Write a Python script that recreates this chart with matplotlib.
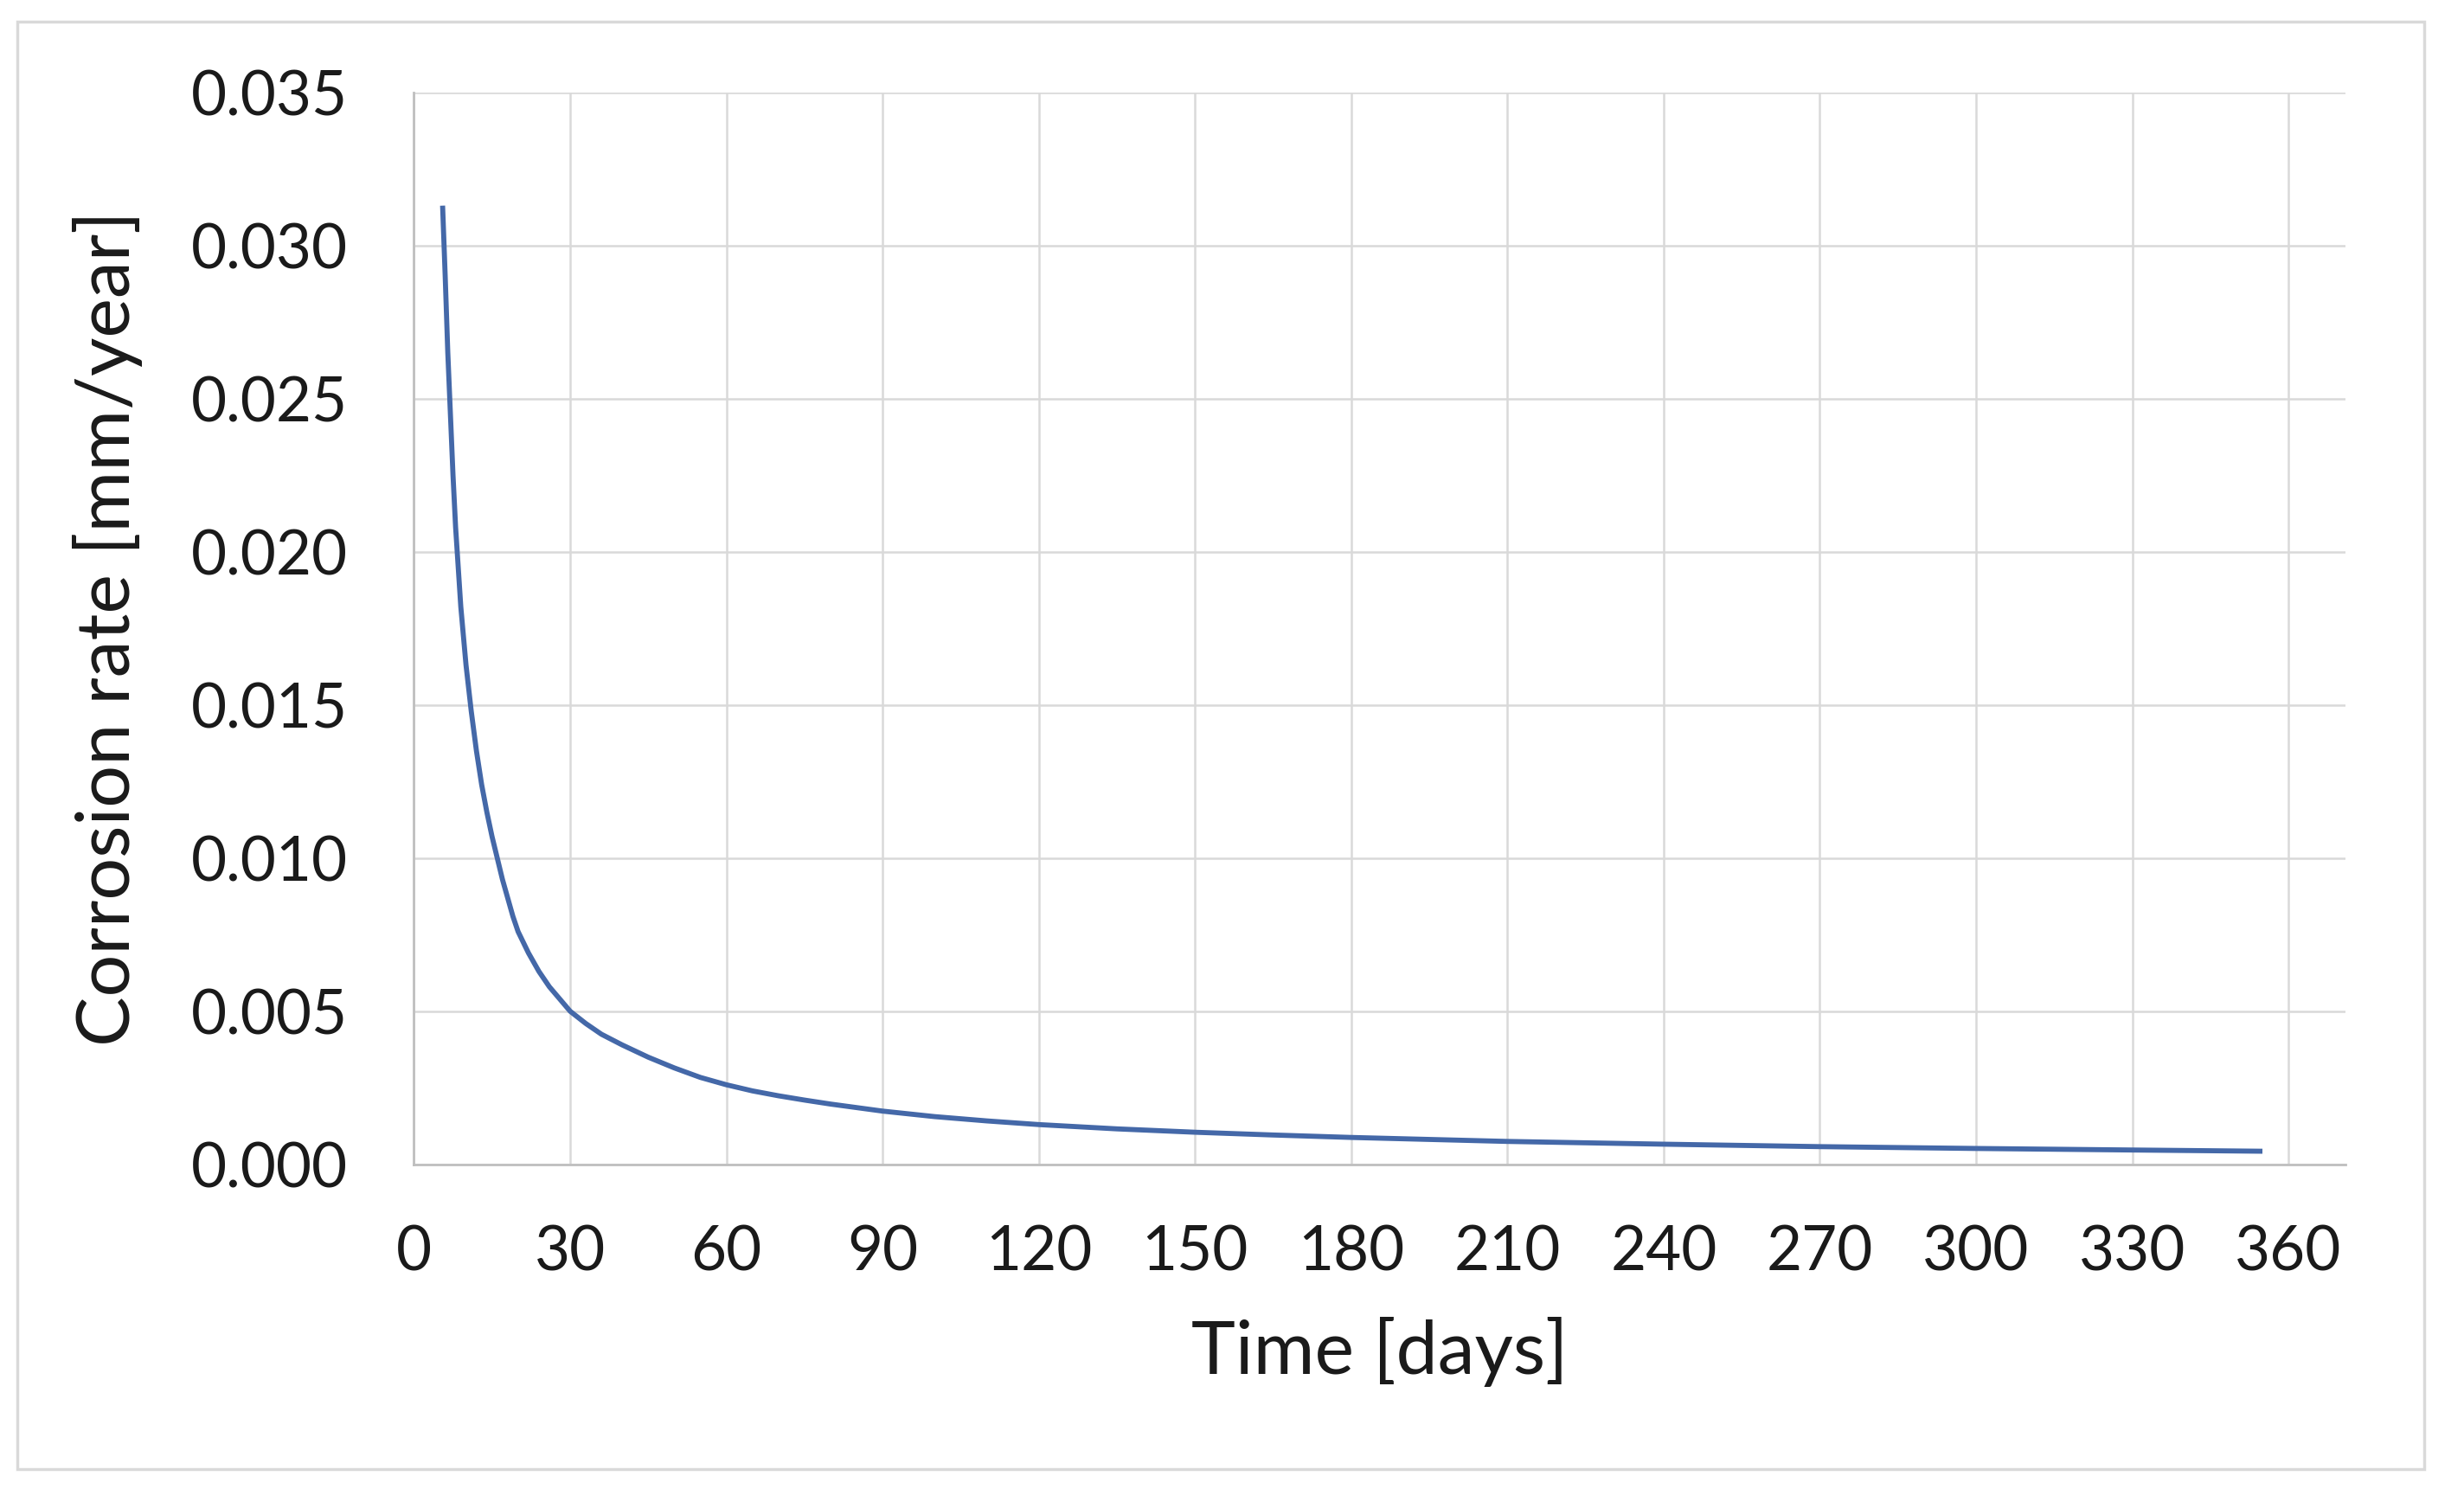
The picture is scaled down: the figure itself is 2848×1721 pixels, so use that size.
import matplotlib.pyplot as plt
from matplotlib.patches import Rectangle
from matplotlib.ticker import FormatStrFormatter

# values
days = [5.5, 6, 6.5, 7, 7.5, 8, 9, 10, 11, 12, 13, 14, 15, 16, 17, 18, 19, 20,
        22, 24, 26, 28, 30, 33, 36, 40, 45, 50, 55, 60, 65, 70, 75, 80, 90, 100,
        110, 120, 135, 150, 165, 180, 210, 240, 270, 300, 330, 355]
rate = [0.0313, 0.0290, 0.0265, 0.0245, 0.0225, 0.0208, 0.0182, 0.0163, 0.0148,
        0.0135, 0.0124, 0.0115, 0.0107, 0.0100, 0.0093, 0.0087, 0.0081, 0.0076,
        0.0069, 0.0063, 0.0058, 0.0054, 0.0050, 0.0046, 0.00425, 0.0039, 0.0035,
        0.00315, 0.00284, 0.0026, 0.0024, 0.00224, 0.0021, 0.00197, 0.00174, 0.00156,
        0.00142, 0.0013, 0.00116, 0.00105, 0.00096, 0.00088, 0.00075, 0.00066,
        0.00058, 0.00052, 0.00047, 0.00043]

xticks = list(range(0, 361, 30))
yticks = [0.000, 0.005, 0.010, 0.015, 0.020, 0.025, 0.030, 0.035]

plt.rcParams['font.family'] = ['Lato', 'DejaVu Sans']

fig = plt.figure(figsize=(28.48, 17.21), dpi=100)
ax = fig.add_axes([0.168, 0.218, 0.784, 0.720])

ax.plot(days, rate, color='#4468a8', linewidth=4.2,
        solid_capstyle='butt', solid_joinstyle='round')

ax.set_xlim(0, 371)
ax.set_ylim(0, 0.035)
ax.set_xticks(xticks)
ax.set_yticks(yticks)
ax.yaxis.set_major_formatter(FormatStrFormatter('%.3f'))
ax.tick_params(length=0, labelsize=51, colors='#1a1a1a')
ax.tick_params(axis='y', pad=55)
ax.tick_params(axis='x', pad=50)

ax.grid(True, color='#d9d9d9', linewidth=1.8)
ax.set_axisbelow(True)
for s in ['top', 'right']:
    ax.spines[s].set_visible(False)
for s in ['left', 'bottom']:
    ax.spines[s].set_color('#bfbfbf')
    ax.spines[s].set_linewidth(2)

ax.set_xlabel('Time [days]', fontsize=62, color='#1a1a1a', labelpad=30)
ax.set_ylabel('Corrosion rate [mm/year]', fontsize=62, color='#1a1a1a', labelpad=40)

# outer chart border
fig.patches.append(Rectangle((20 / 2848, 1 - 1698 / 1721), 2782 / 2848, 1673 / 1721,
                             transform=fig.transFigure, fill=False,
                             edgecolor='#d9d9d9', linewidth=2.5))

fig.savefig('out.png', dpi=100)
